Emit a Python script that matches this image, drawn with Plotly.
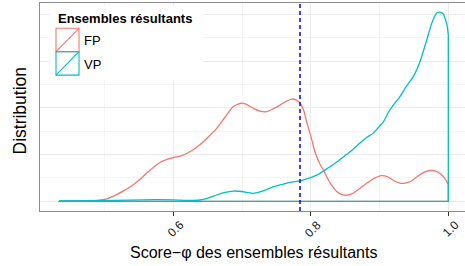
import plotly.graph_objects as go

# ---- data ----
fp_x = [0.4338, 0.4643, 0.4890, 0.5036, 0.5181, 0.5297, 0.5414, 0.5515, 0.5617, 0.5705,
        0.5806, 0.5908, 0.6010, 0.6127, 0.6243, 0.6388, 0.6505, 0.6631, 0.6752, 0.6873,
        0.6995, 0.7072, 0.7164, 0.7261, 0.7359, 0.7450, 0.7552, 0.7639, 0.7722, 0.7785,
        0.7843, 0.7894, 0.7940, 0.8003, 0.8061, 0.8119, 0.8182, 0.8279, 0.8377, 0.8447,
        0.8522, 0.8614, 0.8716, 0.8817, 0.8919, 0.9031, 0.9123, 0.9225, 0.9297, 0.9370,
        0.9457, 0.9559, 0.9661, 0.9734, 0.9806, 0.9879, 0.9927, 0.9967, 1.0]
fp_y = [0.005, 0.006, 0.02, 0.05, 0.15, 0.24, 0.35, 0.47, 0.61, 0.72,
        0.83, 0.90, 0.94, 0.98, 1.06, 1.21, 1.37, 1.56, 1.80, 2.03,
        2.10, 2.07, 1.99, 1.93, 1.92, 1.98, 2.06, 2.14, 2.19, 2.17,
        2.10, 1.96, 1.70, 1.38, 1.06, 0.84, 0.67, 0.40, 0.21, 0.15,
        0.13, 0.17, 0.28, 0.39, 0.49, 0.55, 0.52, 0.43, 0.39, 0.39,
        0.43, 0.54, 0.63, 0.66, 0.65, 0.60, 0.53, 0.45, 0.36]

vp_x = [0.4338, 0.4934, 0.5370, 0.5734, 0.6010, 0.6243, 0.6388, 0.6505, 0.6631, 0.6752,
        0.6873, 0.6995, 0.7072, 0.7164, 0.7261, 0.7359, 0.7450, 0.7552, 0.7639, 0.7722,
        0.7843, 0.7940, 0.8036, 0.8119, 0.8182, 0.8279, 0.8377, 0.8447, 0.8571, 0.8716,
        0.8817, 0.8909, 0.8977, 0.9055, 0.9123, 0.9200, 0.9297, 0.9385, 0.9491, 0.9588,
        0.9686, 0.9759, 0.9831, 0.9879, 0.9927, 0.9952, 0.9981, 1.0]
vp_y = [0.006, 0.013, 0.024, 0.034, 0.030, 0.017, 0.028, 0.07, 0.135, 0.19,
        0.22, 0.21, 0.19, 0.17, 0.20, 0.25, 0.31, 0.35, 0.385, 0.41,
        0.435, 0.48, 0.53, 0.585, 0.65, 0.74, 0.84, 0.92, 1.06, 1.25,
        1.37, 1.46, 1.57, 1.70, 1.89, 2.06, 2.24, 2.45, 2.67, 2.99,
        3.45, 3.81, 4.03, 4.05, 4.01, 3.92, 3.78, 3.56]

threshold = 0.7843
x_ticks = [0.6, 0.8, 1.0]
x_tick_text = ["0.6", "0.8", "1.0"]
x_minor = [0.5, 0.7, 0.9]
y_major = [0, 1, 2, 3, 4]
y_minor = [0.5, 1.5, 2.5, 3.5]
groups = ["FP", "VP"]
colors = {"FP": "#F8766D", "VP": "#00BFC4"}
legend_title = "Ensembles résultants"
x_title = "Score\u2212\u03c6 des ensembles résultants"
y_title = "Distribution"

FONT = "Liberation Sans, Arial, Helvetica, sans-serif"
W, H = 465, 266
ML, MR, MT, MB = 40, 0, 3, 55
PW, PH = W - ML - MR, H - MT - MB


def px_x(px):
    return (px - ML) / PW


def px_y(py):
    return (H - MB - py) / PH


fig = go.Figure()
series = {"FP": (fp_x, fp_y), "VP": (vp_x, vp_y)}
for g in groups:
    xs, ys = series[g]
    fig.add_trace(go.Scatter(x=xs, y=ys, mode="lines", name=g, showlegend=False,
                             line=dict(color=colors[g], width=1.3, shape="spline", smoothing=0.6),
                             hoverinfo="skip"))
    # closing of the density outline (down to the baseline and back)
    fig.add_trace(go.Scatter(x=[xs[-1], xs[-1], xs[0], xs[0]], y=[ys[-1], 0, 0, ys[0]],
                             mode="lines", showlegend=False,
                             line=dict(color=colors[g], width=1.3), hoverinfo="skip"))

shapes = [
    dict(type="line", xref="x", yref="paper", x0=threshold, x1=threshold, y0=0, y1=1,
         line=dict(color="#0000FF", width=1.5, dash="4px,3px"), layer="above"),
    # legend background
    dict(type="rect", xref="paper", yref="paper", x0=px_x(50), x1=px_x(203),
         y0=px_y(80), y1=px_y(6), fillcolor="white", line=dict(width=0), layer="above"),
]
annotations = [
    dict(text="<b>%s</b>" % legend_title, xref="paper", yref="paper", x=px_x(55.5), y=px_y(18.5),
         xanchor="left", yanchor="middle", showarrow=False,
         font=dict(family=FONT, size=13, color="black")),
]
key_tops = [28.3, 51.7]
for g, top in zip(groups, key_tops):
    bot = top + 23.4
    shapes.append(dict(type="rect", xref="paper", yref="paper", x0=px_x(56), x1=px_x(79),
                       y0=px_y(bot), y1=px_y(top), line=dict(color=colors[g], width=1.1),
                       fillcolor="rgba(0,0,0,0)", layer="above"))
    shapes.append(dict(type="line", xref="paper", yref="paper", x0=px_x(56), x1=px_x(79),
                       y0=px_y(bot), y1=px_y(top), line=dict(color=colors[g], width=1.1),
                       layer="above"))
    annotations.append(dict(text=g, xref="paper", yref="paper", x=px_x(81.5), y=px_y(top + 12.5),
                            xanchor="left", yanchor="middle", showarrow=False,
                            font=dict(family=FONT, size=13, color="black")))

for v, t in zip(x_ticks, x_tick_text):
    annotations.append(dict(text=t, xref="x", yref="paper", x=v, y=px_y(228.5), xshift=2,
                            xanchor="center", yanchor="middle", textangle=-45, showarrow=False,
                            font=dict(family=FONT, size=12, color="#1a1a1a")))

annotations.append(dict(text=x_title, xref="paper", yref="paper", x=px_x(253.5), y=px_y(252.5),
                        xanchor="center", yanchor="middle", showarrow=False,
                        font=dict(family=FONT, size=16, color="black")))
annotations.append(dict(text=y_title, xref="paper", yref="paper", x=px_x(19.5), y=px_y(111),
                        xanchor="center", yanchor="middle", textangle=-90, showarrow=False,
                        font=dict(family=FONT, size=17.5, color="black")))

x0 = 0.6 - (173.3 - ML) / 687.5
x1 = x0 + PW / 687.5
y0 = -(211 - 201.3) / 46.7
y1 = y0 + PH / 46.7

fig.update_layout(
    width=W, height=H, margin=dict(l=ML, r=MR, t=MT, b=MB, pad=0),
    paper_bgcolor="white", plot_bgcolor="white",
    font=dict(family=FONT),
    xaxis=dict(range=[x0, x1], tickvals=x_ticks, showticklabels=False,
               ticks="outside", ticklen=4, tickwidth=1.3, tickcolor="#333333",
               showgrid=True, gridcolor="#EBEBEB", gridwidth=1, zeroline=False,
               showline=True, mirror=True, linecolor="#8C8C8C", linewidth=1.3,
               minor=dict(tickvals=x_minor, showgrid=True, gridcolor="#F5F5F5", gridwidth=1, ticks="")),
    yaxis=dict(range=[y0, y1], tickvals=y_major, showticklabels=False, ticks="",
               showgrid=True, gridcolor="#EBEBEB", gridwidth=1, zeroline=False,
               showline=True, linecolor="#8C8C8C", linewidth=1.3,
               minor=dict(tickvals=y_minor, showgrid=True, gridcolor="#F5F5F5", gridwidth=1, ticks="")),
    shapes=shapes, annotations=annotations, showlegend=False,
)

fig.write_html("out.html", config={"displayModeBar": False},
               post_script="document.body.style.margin='0';document.body.style.overflow='hidden';")
